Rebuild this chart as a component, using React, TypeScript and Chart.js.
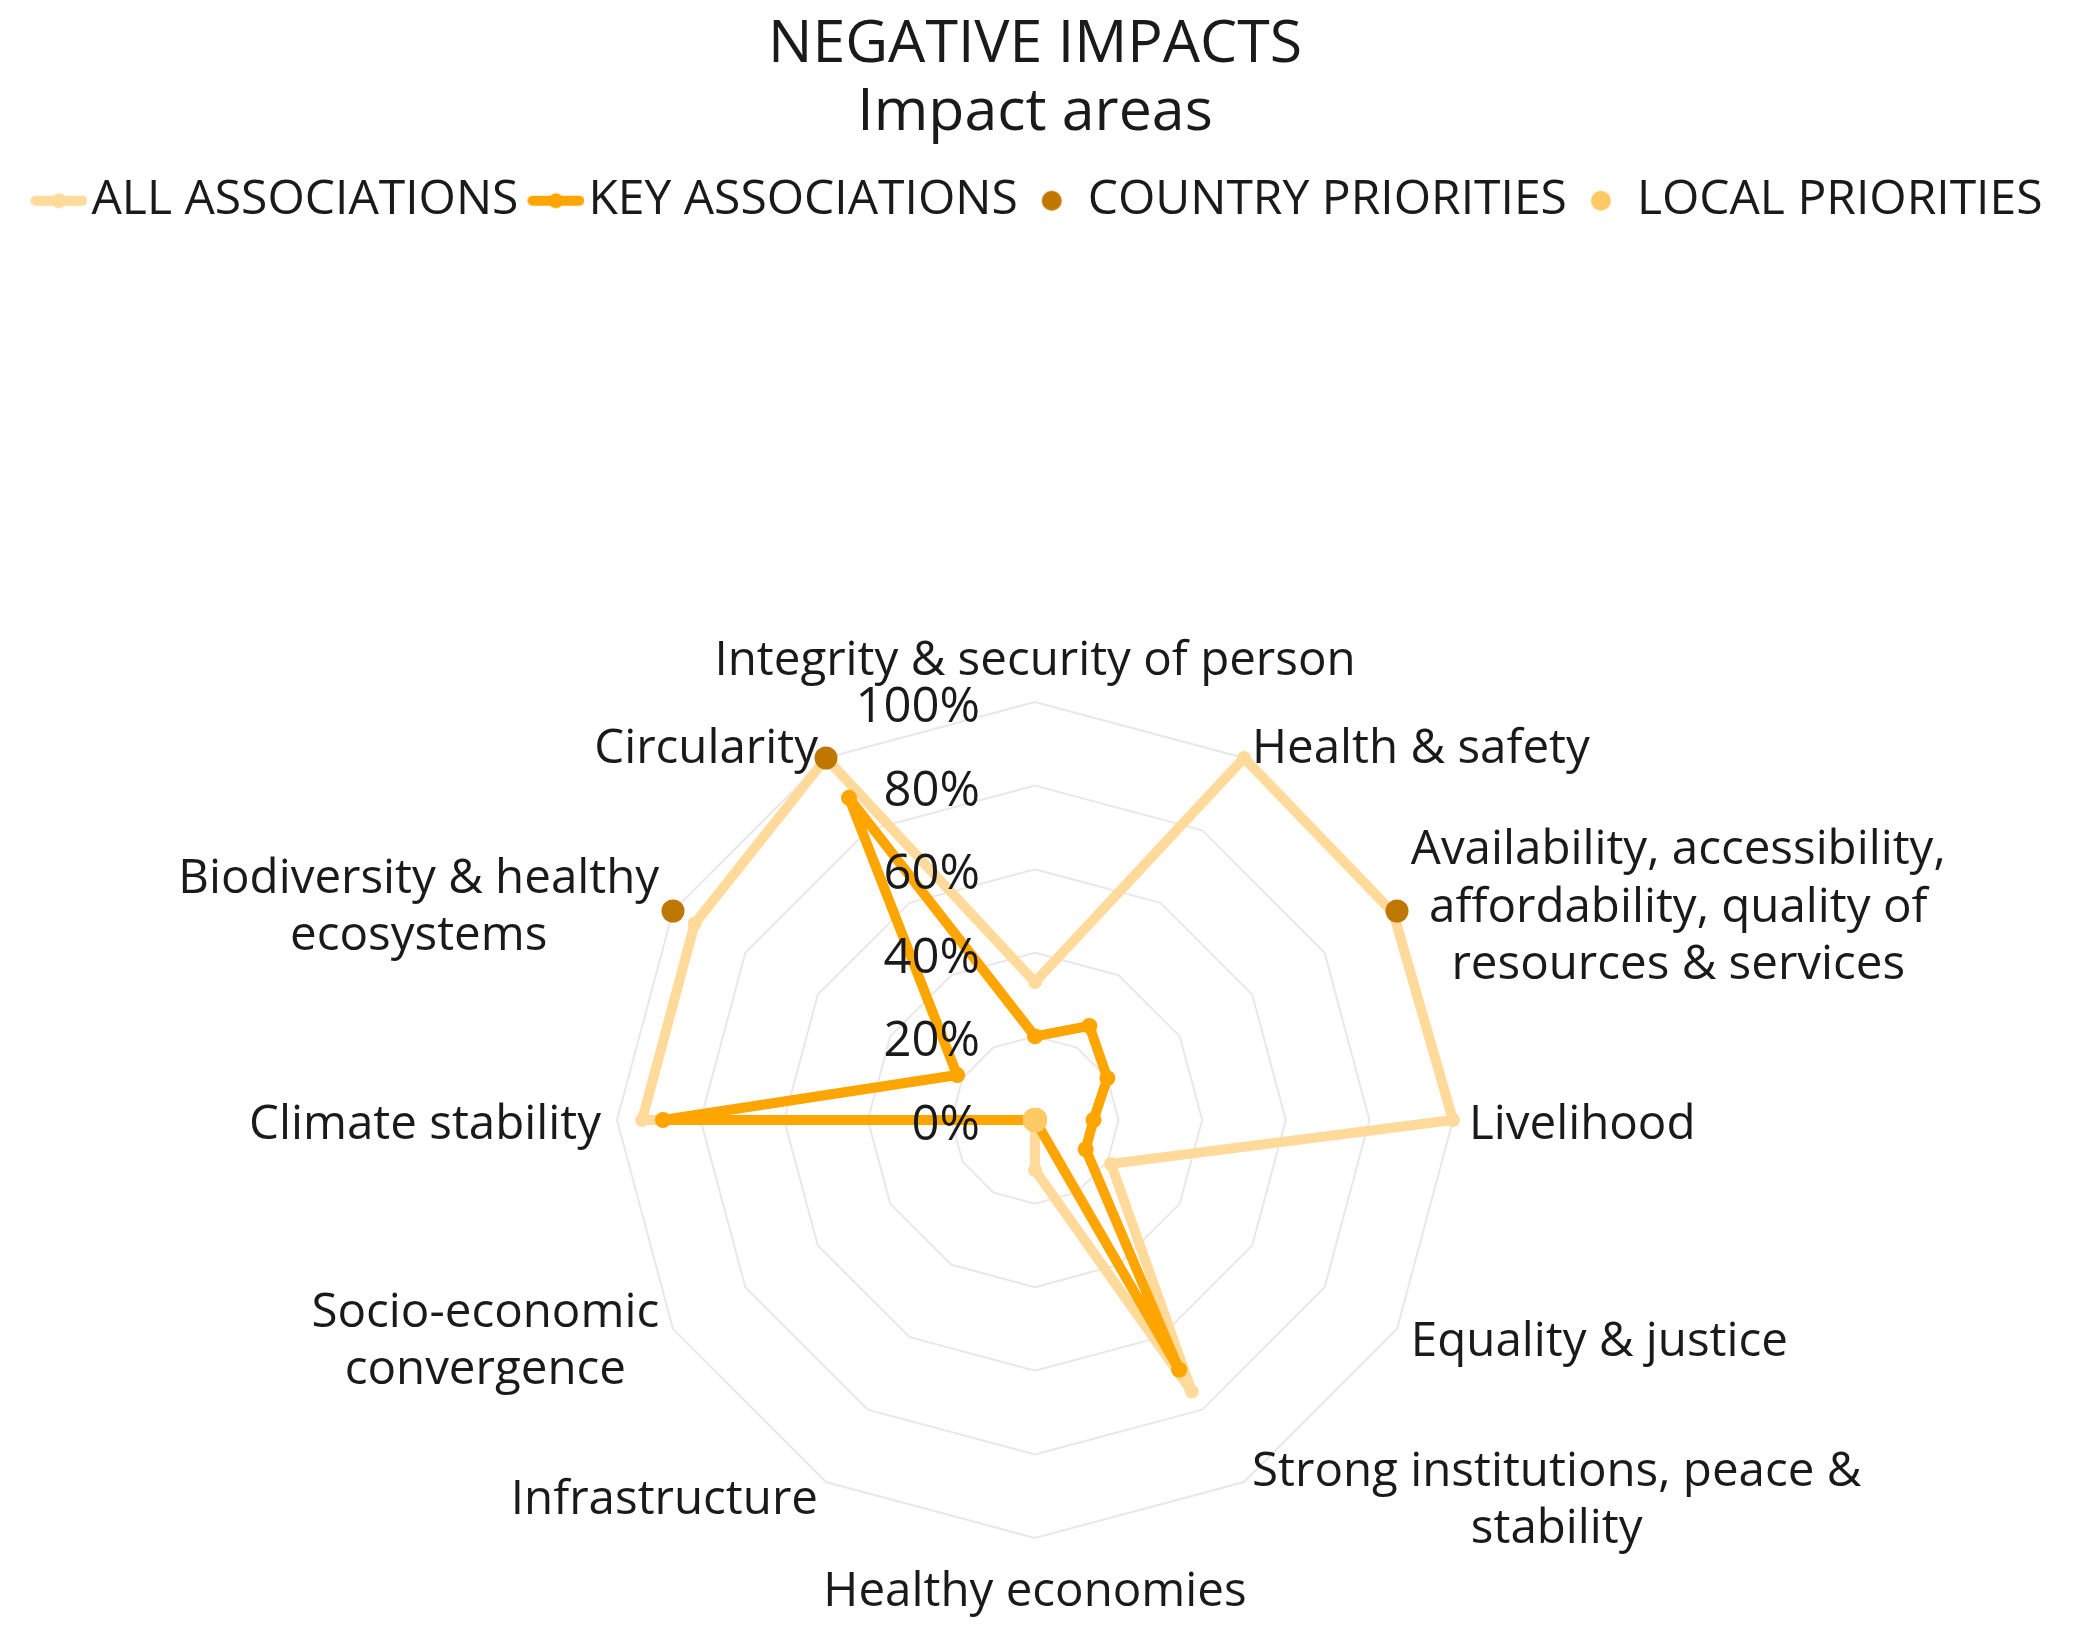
import React, { useEffect, useRef } from 'react';
import { Chart, registerables, layouts } from 'chart.js';

Chart.register(...registerables);

// ---------- data ----------
const TITLE = 'NEGATIVE IMPACTS';
const SUBTITLE = 'Impact areas';

const CATEGORIES: string[][] = [
  ['Integrity & security of person'],
  ['Health & safety'],
  ['Availability, accessibility,', 'affordability, quality of', 'resources & services'],
  ['Livelihood'],
  ['Equality & justice'],
  ['Strong institutions, peace &', 'stability'],
  ['Healthy economies'],
  ['Infrastructure'],
  ['Socio-economic', 'convergence'],
  ['Climate stability'],
  ['Biodiversity & healthy', 'ecosystems'],
  ['Circularity'],
];

const SERIES_NAMES = ['ALL ASSOCIATIONS', 'KEY ASSOCIATIONS', 'COUNTRY PRIORITIES', 'LOCAL PRIORITIES'];
const ALL_ASSOCIATIONS = [33, 100, 99, 100, 21, 75, 12, 0, 0, 94, 94, 100];
const KEY_ASSOCIATIONS = [20, 26, 20, 14, 14, 69, 0, 0, 0, 89, 21.5, 89];
const COUNTRY_PRIORITIES = [null, null, 100, null, null, null, null, null, null, null, 100, 100];
const LOCAL_PRIORITIES = [0, 0, 0, 0, 0, 0, 0, 0, 0, 0, 0, 0];

const TICK_VALUES = [0, 20, 40, 60, 80, 100];
const TICK_LABELS = ['0%', '20%', '40%', '60%', '80%', '100%'];

// ---------- style ----------
const FONT = "'Open Sans', sans-serif";
const TEXT_COLOR = '#1a1a1a';
const C_ALL = '#FFDA9A';
const C_KEY = '#FFA500';
const C_COUNTRY = '#BF7700';
const C_LOCAL = '#FFC966';
const SPACER_GAP = 468;

function makeLineMarker(color: string): HTMLCanvasElement {
  const c = document.createElement('canvas');
  c.width = 80;
  c.height = 20;
  const g = c.getContext('2d')!;
  g.strokeStyle = color;
  g.lineWidth = 10;
  g.lineCap = 'round';
  g.beginPath();
  g.moveTo(28, 10);
  g.lineTo(75, 10);
  g.stroke();
  g.fillStyle = color;
  g.beginPath();
  g.arc(51.5, 10, 7.5, 0, Math.PI * 2);
  g.fill();
  return c;
}

function makeDotMarker(color: string): HTMLCanvasElement {
  const c = document.createElement('canvas');
  c.width = 80;
  c.height = 24;
  const g = c.getContext('2d')!;
  g.fillStyle = color;
  g.beginPath();
  g.arc(48, 12, 10, 0, Math.PI * 2);
  g.fill();
  return c;
}

export default function App() {
  const ref = useRef<HTMLCanvasElement>(null);

  useEffect(() => {
    const canvas = ref.current!;
    const markers = [
      makeLineMarker(C_ALL),
      makeLineMarker(C_KEY),
      makeDotMarker(C_COUNTRY),
      makeDotMarker(C_LOCAL),
    ];

    const spacer: any = {
      position: 'top',
      weight: 1,
      fullSize: true,
      options: {},
      width: 0,
      height: 0,
      left: 0,
      top: 0,
      right: 0,
      bottom: 0,
      isHorizontal() {
        return true;
      },
      update(maxWidth: number) {
        this.width = maxWidth;
        this.height = SPACER_GAP;
      },
      draw() {},
    };

    const spacerPlugin = {
      id: 'spacer',
      beforeInit(chart: any) {
        layouts.addBox(chart, spacer);
      },
    };

    const textPlugin = {
      id: 'radarText',
      afterDraw(chart: any) {
        const scale: any = chart.scales.r;
        const ctx: CanvasRenderingContext2D = chart.ctx;
        ctx.save();
        ctx.fillStyle = TEXT_COLOR;
        ctx.textBaseline = 'middle';
        ctx.textAlign = 'right';
        ctx.font = `49px ${FONT}`;
        TICK_VALUES.forEach((v, i) => {
          const y = scale.yCenter - scale.getDistanceFromCenterForValue(v);
          ctx.fillText(TICK_LABELS[i], scale.xCenter - 55, y + 6);
        });
        ctx.font = `47.5px ${FONT}`;
        const LH = 57.5;
        const labels: string[][] = chart.data.labels;
        labels.forEach((lines, i) => {
          const p = scale.getPointPosition(i, scale.drawingArea + 16);
          let deg = (scale.getIndexAngle(i) * 180) / Math.PI;
          deg = ((deg % 360) + 360) % 360;
          const w = Math.max(...lines.map((l) => ctx.measureText(l).width));
          const h = lines.length * LH;
          const isTop = deg < 1 || deg > 359;
          const isBottom = Math.abs(deg - 180) < 1;
          let cx = p.x;
          if (!isTop && !isBottom) cx = deg < 180 ? p.x + w / 2 : p.x - w / 2;
          let top = p.y - h / 2 + 5;
          if (isTop) top = p.y - h + 4;
          if (isBottom) top = p.y + 10;
          ctx.textAlign = 'center';
          lines.forEach((l, j) => ctx.fillText(l, cx, top + LH * j + LH / 2));
        });
        ctx.restore();
      },
    };

    const chart = new Chart(canvas, {
      type: 'radar',
      data: {
        labels: CATEGORIES,
        datasets: [
          {
            label: SERIES_NAMES[0],
            data: ALL_ASSOCIATIONS,
            borderColor: C_ALL,
            backgroundColor: C_ALL,
            borderWidth: 10,
            borderJoinStyle: 'round',
            fill: false,
            pointRadius: 7,
            pointHoverRadius: 7,
            pointBackgroundColor: C_ALL,
            pointBorderWidth: 0,
            order: 4,
          },
          {
            label: SERIES_NAMES[1],
            data: KEY_ASSOCIATIONS,
            borderColor: C_KEY,
            backgroundColor: C_KEY,
            borderWidth: 10,
            borderJoinStyle: 'round',
            fill: false,
            pointRadius: 8,
            pointHoverRadius: 8,
            pointBackgroundColor: C_KEY,
            pointBorderWidth: 0,
            order: 3,
          },
          {
            label: SERIES_NAMES[2],
            data: COUNTRY_PRIORITIES as any,
            showLine: false,
            fill: false,
            borderColor: C_COUNTRY,
            backgroundColor: C_COUNTRY,
            pointRadius: 11.5,
            pointHoverRadius: 11.5,
            pointBackgroundColor: C_COUNTRY,
            pointBorderWidth: 0,
            order: 2,
          },
          {
            label: SERIES_NAMES[3],
            data: LOCAL_PRIORITIES,
            showLine: false,
            fill: false,
            borderColor: C_LOCAL,
            backgroundColor: C_LOCAL,
            pointRadius: 12,
            pointHoverRadius: 12,
            pointBackgroundColor: C_LOCAL,
            pointBorderWidth: 0,
            order: 1,
          },
        ] as any,
      },
      options: {
        animation: false,
        responsive: false,
        maintainAspectRatio: false,
        layout: { padding: { top: 0, left: 0, right: 5, bottom: 90 } },
        elements: { line: { tension: 0 } },
        scales: {
          r: {
            min: 0,
            max: 100,
            ticks: { display: false, stepSize: 20 },
            grid: { color: '#e8e8e8', lineWidth: 2 },
            angleLines: { display: false },
            pointLabels: { display: false },
          },
        },
        plugins: {
          title: {
            display: true,
            text: TITLE,
            color: TEXT_COLOR,
            font: { family: FONT, size: 59, weight: 'normal', lineHeight: 1.15 },
            padding: { top: 11, bottom: 0 },
          },
          subtitle: {
            display: true,
            text: SUBTITLE,
            color: TEXT_COLOR,
            font: { family: FONT, size: 59, weight: 'normal', lineHeight: 1.15 },
            padding: { top: 0, bottom: 24 },
          },
          legend: {
            display: true,
            position: 'top',
            labels: {
              usePointStyle: true,
              pointStyleWidth: 40,
              padding: 6,
              color: TEXT_COLOR,
              font: { family: FONT, size: 48 },
              generateLabels: (ch: any) =>
                ch.data.datasets.map((ds: any, i: number) => ({
                  text: ds.label,
                  fillStyle: ds.backgroundColor,
                  strokeStyle: ds.borderColor,
                  lineWidth: 0,
                  pointStyle: markers[i],
                  hidden: !ch.isDatasetVisible(i),
                  datasetIndex: i,
                  fontColor: TEXT_COLOR,
                })),
            },
          },
          tooltip: { enabled: false },
        },
      } as any,
      plugins: [spacerPlugin, textPlugin] as any,
    });

    return () => chart.destroy();
  }, []);

  return (
    <div style={{ position: 'absolute', left: 0, top: 0, width: 2075, height: 1629, background: '#fff' }}>
      <canvas ref={ref} width={2075} height={1629} style={{ display: 'block' }} />
    </div>
  );
}
